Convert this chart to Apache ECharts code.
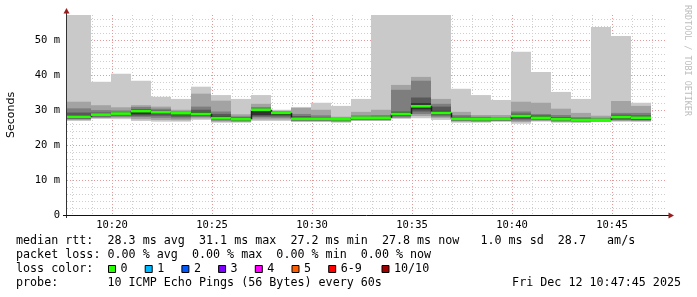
<!DOCTYPE html>
<html><head><meta charset="utf-8">
<script src="https://cdn.jsdelivr.net/npm/echarts@6/dist/echarts.min.js"></script>
<style>html,body{margin:0;padding:0;background:#fff}#c{width:697px;height:297px}</style>
</head><body><div id="c"></div>
<script>
// ---- data (values in milliseconds) ----
const axisStart = '10:17:45';
const axisEnd = '10:47:45';
const firstBucketStart = '10:17:00';
const bucketEnd = ['10:19','10:20','10:21','10:22','10:23','10:24','10:25','10:26','10:27','10:28',
  '10:29','10:30','10:31','10:32','10:33','10:34','10:35','10:36','10:37','10:38',
  '10:39','10:40','10:41','10:42','10:43','10:44','10:45','10:46','10:47'];
const median  = [28.1,28.7,29.0,29.7,29.4,29.1,28.9,27.7,27.4,30.1,29.2,27.5,27.5,27.4,27.8,27.8,28.9,31.1,29.2,27.5,27.4,27.5,28.3,27.8,27.4,27.2,27.2,28.0,27.8];
const pingMax = [57.2,38.1,40.4,38.4,33.8,33.2,36.7,34.3,33.2,34.3,30.1,30.9,32.1,31.2,33.2,57.2,57.2,57.2,57.2,36.1,34.3,32.9,46.7,40.9,35.2,33.2,53.8,51.2,32.1];
const ping9   = [32.4,31.4,30.8,31.4,31.0,30.1,34.7,32.7,28.8,31.8,29.8,30.6,30.1,28.1,29.5,30.1,37.2,39.5,33.2,29.5,28.6,28.6,32.4,32.1,30.4,29.2,28.4,32.6,31.2];
const ping8   = [30.5,30.0,29.9,30.9,30.4,29.6,31.0,29.6,28.2,30.9,29.6,28.9,28.5,27.8,28.5,28.6,35.8,38.4,31.8,28.6,28.1,28.0,29.6,28.9,28.6,28.0,27.8,29.2,29.2];
const ping7   = [29.3,29.3,29.4,30.3,29.9,29.4,30.1,28.9,27.9,30.5,29.5,28.3,28.0,27.6,28.1,28.2,29.6,33.6,31.0,28.1,27.8,27.8,29.0,28.5,28.0,27.7,27.5,28.7,28.5];
const ping6   = [28.6,28.9,29.2,30.0,29.6,29.2,29.4,28.2,27.6,30.3,29.3,27.8,27.7,27.5,27.9,27.9,29.3,32.0,29.8,27.8,27.6,27.6,28.6,28.2,27.6,27.4,27.3,28.3,28.0];
const ping5   = [27.9,28.5,28.8,28.8,29.0,28.6,28.6,27.5,27.2,28.6,28.6,27.3,27.3,27.2,27.6,27.6,28.6,30.2,28.9,27.3,27.2,27.3,27.8,27.6,27.2,27.0,27.0,27.6,27.4];
const ping4   = [27.6,28.2,28.5,28.4,28.4,28.1,28.3,27.3,27.0,28.2,28.2,27.1,27.1,27.0,27.4,27.4,28.3,29.6,28.5,27.1,27.0,27.1,27.4,27.4,27.0,26.9,26.9,27.3,27.2];
const ping3   = [27.4,27.9,28.1,28.0,27.8,27.6,28.0,27.0,26.8,27.9,27.8,26.9,26.9,26.8,27.2,27.2,27.9,28.9,28.1,26.9,26.8,26.9,27.0,27.1,26.8,26.7,26.8,27.1,27.0];
const ping2   = [27.2,27.7,27.8,27.4,27.2,27.1,27.6,26.7,26.6,27.3,27.3,26.8,26.8,26.6,27.0,27.0,27.7,28.3,27.7,26.7,26.6,26.8,26.6,26.9,26.6,26.5,26.7,26.9,26.8];
const pingMin = [26.9,27.5,27.4,26.9,26.7,26.7,27.2,26.4,26.4,26.9,26.9,26.6,26.6,26.4,26.9,26.9,27.5,27.7,27.2,26.4,26.4,26.7,26.1,26.7,26.4,26.4,26.6,26.7,26.7];
const yMax = 57.2;
const lossLabels = ['0','1','2','3','4','5','6-9','10/10'];
const lossColors = ['#26ff00','#00b8ff','#0059ff','#7e00ff','#ff00ff','#ff5e00','#ff0000','#a10000'];
const statLine1 = 'median rtt:  28.3 ms avg  31.1 ms max  27.2 ms min  27.8 ms now   1.0 ms sd  28.7   am/s';
const statLine2 = 'packet loss: 0.00 % avg  0.00 % max  0.00 % min  0.00 % now';
const statLine3 = 'loss color:';
const statLine4 = 'probe:       10 ICMP Echo Pings (56 Bytes) every 60s';
const dateText = 'Fri Dec 12 10:47:45 2025';
const watermark = 'RRDTOOL / TOBI OETIKER';
const yLabel = 'Seconds';

// ---- build ----
const toSec = t => { const p = t.split(':').map(Number); return p[0]*3600 + p[1]*60 + (p[2]||0); };
const pad = n => (n < 10 ? '0' : '') + n;
const rows = bucketEnd.map((t, i) => {
  const e = toSec(t);
  const s = i > 0 ? toSec(bucketEnd[i-1]) : toSec(firstBucketStart);
  return [s - 2, e - 2, pingMin[i], ping2[i], ping3[i], ping4[i], ping5[i], ping6[i], ping7[i], ping8[i], ping9[i], pingMax[i], median[i], i > 0 ? median[i-1] : median[i]];
});
const grays = ['#c9c9c9','#a3a3a3','#7e7e7e','#585858','#323232'];

function renderItem(params, api) {
  const s = api.value(0), e = api.value(1);
  const cs = params.coordSys;
  const children = [];
  const xs = Math.round(api.coord([s, 0])[0]), xe = Math.round(api.coord([e, 0])[0]);
  for (let k = 0; k < 5; k++) {
    const lo = api.value(2 + k), hi = api.value(11 - k);
    const yt = api.coord([s, hi])[1], yb = api.coord([s, lo])[1];
    const r = echarts.graphic.clipRectByRect({x: xs, y: yt, width: xe - xs, height: yb - yt}, cs);
    if (r) children.push({type: 'rect', shape: r, style: {fill: grays[k]}});
  }
  const m = api.value(12), pm = api.value(13);
  const ym = api.coord([s, m])[1], yp = api.coord([s, pm])[1];
  if (params.dataIndex > 0 && Math.abs(yp - ym) > 0.5) {
    children.push({type: 'line', shape: {x1: xs + 0.5, y1: yp, x2: xs + 0.5, y2: ym},
      style: {stroke: '#202020', lineWidth: 1.5}});
  }
  const g = echarts.graphic.clipRectByRect({x: xs, y: ym - 1.3, width: xe - xs, height: 2.6}, cs);
  if (g) children.push({type: 'rect', shape: g, style: {fill: lossColors[0]}});
  return {type: 'group', children};
}

const xColors = [];
for (let i = 0; i < 20; i++) {
  const t = toSec(axisStart) + 15 * i;
  xColors.push(t % 300 === 0 ? '#e49a9a' : (t % 60 === 0 ? '#cfcfcf' : 'rgba(0,0,0,0)'));
}
const yColors = ['#e49a9a', '#cfcfcf', '#cfcfcf', '#cfcfcf', '#cfcfcf'];

const mono = '"DejaVu Sans Mono", monospace';
const txt = (x, y, s, extra) => Object.assign({type: 'text', x, y, z: 100,
  style: {text: s, font: '11.7px ' + mono, fill: '#000', verticalAlign: 'middle'}}, extra || {});

const graphic = [
  txt(16, 240.5, statLine1),
  txt(16, 254.5, statLine2),
  txt(16, 268.5, statLine3),
  txt(16, 282.5, statLine4),
  {type: 'text', x: 681, y: 282.5, z: 100, style: {text: dateText, font: '11.7px ' + mono, fill: '#000', align: 'right', verticalAlign: 'middle'}},
  {type: 'text', x: 687, y: 5, rotation: -Math.PI / 2, z: 100,
    style: {text: watermark, font: '8.4px ' + mono, fill: '#bdbdbd', align: 'left', verticalAlign: 'middle'}},
  // axes
  {type: 'line', z: 100, shape: {x1: 66.5, y1: 218, x2: 66.5, y2: 12}, style: {stroke: '#333', lineWidth: 1}},
  {type: 'line', z: 100, shape: {x1: 63, y1: 215.5, x2: 670, y2: 215.5}, style: {stroke: '#111', lineWidth: 1}},
  {type: 'polygon', z: 101, shape: {points: [[63.5, 13.5], [69.5, 13.5], [66.5, 8]]}, style: {fill: '#9a1c1c'}},
  {type: 'polygon', z: 101, shape: {points: [[668.5, 212.5], [668.5, 218.5], [674, 215.5]]}, style: {fill: '#9a1c1c'}}
];
const boxX = [108.5, 145.2, 181.9, 218.6, 255.3, 292, 328.7, 382];
lossLabels.forEach((lab, i) => {
  graphic.push({type: 'rect', z: 100, shape: {x: boxX[i], y: 265.5, width: 7, height: 7}, style: {fill: lossColors[i], stroke: '#000', lineWidth: 1}});
  graphic.push(txt(boxX[i] + 12, 268.5, lab));
});

const chart = echarts.init(document.getElementById('c'), null, {renderer: 'canvas'});
chart.setOption({
  animation: false,
  backgroundColor: '#fff',
  grid: {left: 67, top: 15, width: 600, height: 200, containLabel: false, outerBoundsMode: 'none'},
  xAxis: {
    type: 'value', min: toSec(axisStart), max: toSec(axisEnd), interval: 15,
    axisLine: {show: false}, axisTick: {show: false},
    axisLabel: {interval: 0, hideOverlap: false, margin: 5, color: '#000', fontFamily: mono, fontSize: 10.5,
      formatter: v => (v % 300 === 0 ? pad(Math.floor(v / 3600)) + ':' + pad(Math.floor(v % 3600 / 60)) : '')},
    splitLine: {show: true, showMaxLine: false, lineStyle: {color: xColors, type: [1, 2], width: 1}}
  },
  yAxis: {
    type: 'value', min: 0, max: yMax, interval: 2,
    name: yLabel, nameLocation: 'middle', nameRotate: 90, nameGap: 50,
    nameTextStyle: {fontFamily: '"DejaVu Sans", sans-serif', fontSize: 11, color: '#000'},
    axisLine: {show: false}, axisTick: {show: false},
    axisLabel: {hideOverlap: false, margin: 7, color: '#000', fontFamily: mono, fontSize: 10.5,
      formatter: v => (v % 10 === 0 ? (v === 0 ? '0' : v + ' m') : '')},
    splitLine: {show: true, showMaxLine: false, lineStyle: {color: yColors, type: [1, 2], width: 1}}
  },
  series: [{type: 'custom', renderItem, data: rows, encode: {x: [0, 1], y: [2, 11]}, z: 2}],
  graphic
});
</script></body></html>
